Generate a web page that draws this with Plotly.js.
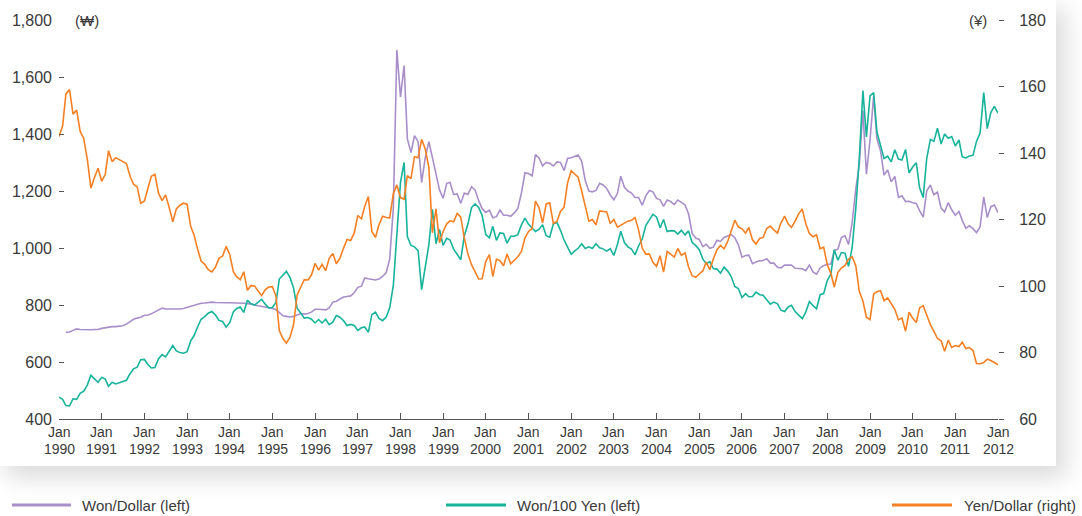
<!DOCTYPE html>
<html>
<head>
<meta charset="utf-8">
<script src="https://cdn.plot.ly/plotly-3.0.1.min.js"></script>
<style>
  html, body { margin: 0; padding: 0; background: #ffffff; width: 1082px; height: 516px; overflow: hidden; }
  #card { position: absolute; left: 0; top: 0; width: 1056px; height: 466px; background: #ffffff;
          box-shadow: 8px 10px 22px 2px rgba(0,0,0,0.14); }
  #chart { position: absolute; left: 0; top: 0; width: 1082px; height: 516px; }
</style>
</head>
<body>
<div id="card"></div>
<div id="chart"></div>
<script>
// ---- Data (monthly, first value = Jan 1990, last = Jan 2012) ----
const startYear = 1990;
const seriesNames = ['Won/Dollar (left)', 'Won/100 Yen (left)', 'Yen/Dollar (right)'];
const seriesColors = ['#a98fca', '#17b39b', '#f58024'];

const wonDollar = [
  null, null, 704, 705, 711, 716, 714, 713, 713, 713, 714, 714,
  718, 720, 723, 724, 724, 725, 727, 733, 742, 750, 754, 757,
  764, 765, 769, 776, 782, 789, 786, 786, 785, 786, 786, 788,
  792, 795, 799, 802, 806, 807, 809, 810, 809, 808, 809, 808,
  808, 808, 808, 806, 806, 805, 804, 800, 798, 796, 794, 790,
  788, 784, 772, 762, 760, 758, 760, 766, 770, 768, 770, 775,
  785, 785, 785, 783, 790, 810, 813, 820, 828, 830, 832, 843,
  862, 866, 895, 892, 891, 888, 891, 900, 914, 962, 1140, 1695,
  1530, 1640, 1383, 1335, 1394, 1373, 1230, 1317, 1373, 1318, 1250, 1204,
  1174, 1227, 1230, 1188, 1190, 1157, 1193, 1188, 1215, 1204, 1166, 1138,
  1125, 1133, 1106, 1110, 1133, 1115, 1115, 1111, 1123, 1139, 1193, 1264,
  1261, 1253, 1328, 1316, 1288, 1300, 1297, 1288, 1302, 1300, 1272, 1314,
  1317, 1322, 1326, 1304, 1237, 1200, 1197, 1202, 1227, 1221, 1209, 1186,
  1169, 1192, 1252, 1213, 1200, 1193, 1177, 1177, 1150, 1183, 1202, 1197,
  1174, 1169, 1146, 1168, 1163, 1152, 1168, 1160, 1151, 1120, 1051, 1035,
  1030, 1005, 1013, 999, 1003, 1027, 1023, 1037, 1042, 1047, 1036, 1011,
  968, 974, 975, 945, 951, 955, 956, 962, 947, 947, 932, 930,
  940, 940, 940, 929, 928, 927, 920, 940, 916, 908, 930, 938,
  943, 944, 991, 996, 1037, 1043, 1012, 1089, 1207, 1292, 1482, 1259,
  1379, 1534, 1383, 1340, 1256, 1274, 1232, 1251, 1178, 1183, 1163, 1164,
  1159, 1156, 1131, 1108, 1200, 1221, 1187, 1196, 1140, 1126, 1159, 1134,
  1115, 1128, 1097, 1069, 1078, 1068, 1054, 1075, 1179, 1107, 1145, 1151,
  1124
];

const won100Yen = [
  477, 469, 447, 446, 471, 469, 490, 498, 520, 554, 541, 529,
  546, 540, 515, 529, 523, 527, 531, 536, 559, 576, 582, 608,
  609, 591, 579, 581, 611, 626, 618, 637, 658, 639, 633, 631,
  636, 674, 692, 723, 750, 759, 771, 777, 765, 746, 742, 722,
  738, 776, 788, 793, 774, 817, 804, 800, 809, 820, 803, 790,
  791, 809, 891, 904, 918, 896, 860, 789, 773, 754, 756, 750,
  737, 749, 737, 750, 731, 740, 763, 757, 745, 728, 732, 728,
  711, 720, 723, 704, 766, 775, 753, 745, 758, 790, 870, 1060,
  1230, 1300, 1040, 1009, 1004, 991, 854, 933, 1012, 1136, 1015, 1065,
  1009, 1034, 1028, 996, 977, 959, 1042, 1084, 1142, 1155, 1142, 1114,
  1047, 1036, 1076, 1027, 1053, 1051, 1017, 1041, 1041, 1047, 1081, 1105,
  1083, 1068, 1058, 1066, 1082, 1043, 1038, 1084, 1090, 1062, 1028, 1003,
  978, 990, 999, 1015, 998, 1004, 998, 1015, 1001, 997, 989, 998,
  974, 1013, 1059, 1019, 1004, 996, 976, 1008, 1032, 1079, 1097, 1118,
  1109, 1071, 1100, 1058, 1061, 1060, 1049, 1062, 1046, 1060, 1019, 1009,
  994, 961, 945, 952, 928, 926, 912, 933, 919, 900, 865, 858,
  826, 840, 829, 830, 845, 836, 834, 820, 803, 810, 804, 782,
  777, 793, 799, 777, 763, 752, 775, 812, 798, 787, 836, 840,
  886, 909, 994, 957, 984, 982, 936, 1001, 1138, 1313, 1552, 1390,
  1534, 1545, 1407, 1359, 1314, 1322, 1302, 1345, 1312, 1309, 1346, 1264,
  1284, 1299, 1211, 1177, 1314, 1381, 1374, 1420, 1365, 1400, 1385, 1391,
  1358, 1379, 1320, 1316, 1323, 1325, 1374, 1403, 1545, 1419, 1476, 1497,
  1473
];

const yenDollar = [
  145.0, 148.1, 157.7, 159.1, 151.7, 152.9, 146.5, 144.3, 137.9, 129.4, 132.7, 135.4,
  131.5, 133.6, 140.7, 137.4, 138.6, 138.0, 137.6, 136.8, 133.0, 130.6, 129.8, 124.9,
  125.5, 129.5, 133.0, 133.6, 128.0, 125.7, 127.4, 123.6, 119.3, 123.2, 124.3, 124.9,
  124.6, 117.9, 115.4, 111.1, 107.5, 106.5, 104.9, 104.2, 105.7, 108.3, 109.0, 111.9,
  109.5, 104.3, 102.8, 101.9, 104.3, 98.7, 100.1, 100.0, 98.6, 97.1, 98.9, 99.7,
  99.8, 96.9, 86.6, 84.2, 82.8, 84.6, 88.4, 97.3, 99.7, 101.9, 101.8, 103.3,
  106.8, 104.8, 106.5, 104.6, 108.3, 109.8, 106.7, 108.4, 111.4, 114.0, 113.7, 115.9,
  121.2, 120.2, 124.0, 126.9, 116.4, 114.6, 118.4, 121.0, 120.6, 120.5, 127.8, 130.4,
  126.6, 126.1, 133.2, 132.3, 138.9, 138.6, 144.1, 141.2, 135.7, 116.0, 123.2, 113.0,
  116.4, 118.7, 119.6, 119.3, 121.8, 120.7, 114.5, 109.6, 106.4, 104.2, 102.1, 102.2,
  107.4, 109.4, 102.8, 108.1, 107.6, 106.1, 109.6, 106.7, 107.9, 108.8, 110.4, 114.4,
  116.4, 117.3, 125.5, 123.5, 119.0, 124.7, 125.0, 118.8, 119.4, 122.4, 123.7, 131.0,
  134.7, 133.5, 132.7, 128.5, 124.0, 119.5, 120.0, 118.4, 122.6, 122.5, 122.3, 118.8,
  120.0, 117.7, 118.2, 119.0, 119.5, 119.8, 120.6, 116.8, 111.4, 109.6, 109.6, 107.1,
  105.9, 109.1, 104.2, 110.4, 109.6, 108.7, 111.3, 109.2, 110.0, 105.7, 103.1, 102.6,
  103.6, 104.6, 107.2, 104.9, 108.1, 110.9, 112.2, 111.2, 113.4, 116.3, 119.8, 117.8,
  117.2, 115.9, 117.6, 113.9, 112.6, 114.3, 114.6, 117.3, 118.0, 116.9, 115.9, 119.0,
  121.0, 118.6, 117.6, 119.5, 121.7, 123.2, 118.7, 115.8, 114.8, 115.4, 111.2, 111.7,
  106.4, 103.8, 99.7, 104.1, 105.4, 106.2, 108.1, 108.8, 106.1, 98.4, 95.5, 90.6,
  89.9, 97.6, 98.3, 98.6, 95.6, 96.4, 94.6, 93.0, 89.8, 90.4, 86.4, 92.1,
  90.3, 89.0, 93.4, 94.1, 91.3, 88.4, 86.4, 84.2, 83.5, 80.4, 83.7, 81.5,
  82.1, 81.8, 83.1, 81.2, 81.5, 80.6, 76.7, 76.6, 77.0, 78.0, 77.6, 76.9,
  76.3
];

const tickYears = [1990,1991,1992,1993,1994,1995,1996,1997,1998,1999,2000,2001,
                   2002,2003,2004,2005,2006,2007,2008,2009,2010,2011,2012];
const tickMonthLabel = 'Jan';
const leftTicks = [400, 600, 800, 1000, 1200, 1400, 1600, 1800];
const rightTicks = [60, 80, 100, 120, 140, 160, 180];

// ---- Layout helpers ----
const W = 1082, H = 516;
const M = { l: 59, r: 84, t: 20, b: 97 };
const PW = W - M.l - M.r, PH = H - M.t - M.b;
const px = x => (x - M.l) / PW;
const py = y => (H - M.b - y) / PH;

function monthDates(n) {
  const out = [];
  for (let i = 0; i < n; i++) {
    const y = startYear + Math.floor(i / 12);
    const m = (i % 12) + 1;
    out.push(y + '-' + (m < 10 ? '0' + m : m) + '-01');
  }
  return out;
}

const textColor = '#3a3a3a';
const fontY = 'Liberation Sans, Arial, sans-serif';
const fontX = 'Liberation Sans, Arial, sans-serif';

const traces = [
  { x: monthDates(wonDollar.length), y: wonDollar, name: seriesNames[0], yaxis: 'y',
    type: 'scatter', mode: 'lines', line: { color: seriesColors[0], width: 1.6 } },
  { x: monthDates(won100Yen.length), y: won100Yen, name: seriesNames[1], yaxis: 'y',
    type: 'scatter', mode: 'lines', line: { color: seriesColors[1], width: 1.6 } },
  { x: monthDates(yenDollar.length), y: yenDollar, name: seriesNames[2], yaxis: 'y2',
    type: 'scatter', mode: 'lines', line: { color: seriesColors[2], width: 1.6 } }
];

const tickDates = tickYears.map(y => y + '-01-01');

const annotations = [];
tickYears.forEach((yr, i) => {
  annotations.push({ x: tickDates[i], xref: 'x', y: 0, yref: 'paper', yanchor: 'middle',
    yshift: -13, text: tickMonthLabel, showarrow: false,
    font: { family: fontX, size: 14, color: textColor } });
  annotations.push({ x: tickDates[i], xref: 'x', y: 0, yref: 'paper', yanchor: 'middle',
    yshift: -30, text: String(yr), showarrow: false,
    font: { family: fontX, size: 14, color: textColor } });
});
annotations.push({ x: px(73), xref: 'paper', xanchor: 'left', y: 1, yref: 'paper', yanchor: 'middle',
  text: '(₩)', showarrow: false, font: { family: fontY, size: 15, color: textColor } });
annotations.push({ x: px(989), xref: 'paper', xanchor: 'right', y: 1, yref: 'paper', yanchor: 'middle',
  text: '(¥)', showarrow: false, font: { family: fontY, size: 15, color: textColor } });

// legend (custom, drawn below the card)
const legendPos = [ { line: [12, 71], text: 80 }, { line: [446, 506], text: 515 }, { line: [892, 952], text: 962 } ];
const legendY = 505;
const shapes = [];
legendPos.forEach((p, i) => {
  shapes.push({ type: 'line', xref: 'paper', yref: 'paper', x0: px(p.line[0]), x1: px(p.line[1]),
    y0: py(legendY), y1: py(legendY), line: { color: seriesColors[i], width: 3 } });
  annotations.push({ x: px(p.text), xref: 'paper', xanchor: 'left', y: py(legendY), yref: 'paper',
    yanchor: 'middle', text: seriesNames[i], showarrow: false,
    font: { family: fontY, size: 15, color: textColor } });
});

const layout = {
  width: W, height: H,
  margin: M,
  paper_bgcolor: 'rgba(0,0,0,0)',
  plot_bgcolor: 'rgba(0,0,0,0)',
  showlegend: false,
  xaxis: {
    type: 'date',
    range: ['1990-01-01', '2012-01-01'],
    tickmode: 'array', tickvals: tickDates,
    showticklabels: false,
    ticks: 'inside', ticklen: 6, tickwidth: 1, tickcolor: '#555',
    showline: true, linecolor: '#555', linewidth: 1,
    showgrid: false, zeroline: false
  },
  yaxis: {
    range: [400, 1800],
    tickmode: 'array', tickvals: leftTicks, ticktext: leftTicks.map(v => v.toLocaleString('en-US')),
    ticks: 'inside', ticklen: 5, tickwidth: 1, tickcolor: '#555',
    showline: false, showgrid: false, zeroline: false,
    tickfont: { family: fontY, size: 16, color: textColor },
    ticklabelstandoff: 6
  },
  yaxis2: {
    range: [60, 180], overlaying: 'y', side: 'right',
    tickmode: 'array', tickvals: rightTicks, ticktext: rightTicks.map(String),
    ticks: 'outside', ticklen: 5, tickwidth: 1, tickcolor: '#555',
    showline: false, showgrid: false, zeroline: false,
    tickfont: { family: fontY, size: 16, color: textColor },
    ticklabelstandoff: 12
  },
  annotations: annotations,
  shapes: shapes
};

Plotly.newPlot('chart', traces, layout, { displayModeBar: false, staticPlot: true });
</script>
</body>
</html>
